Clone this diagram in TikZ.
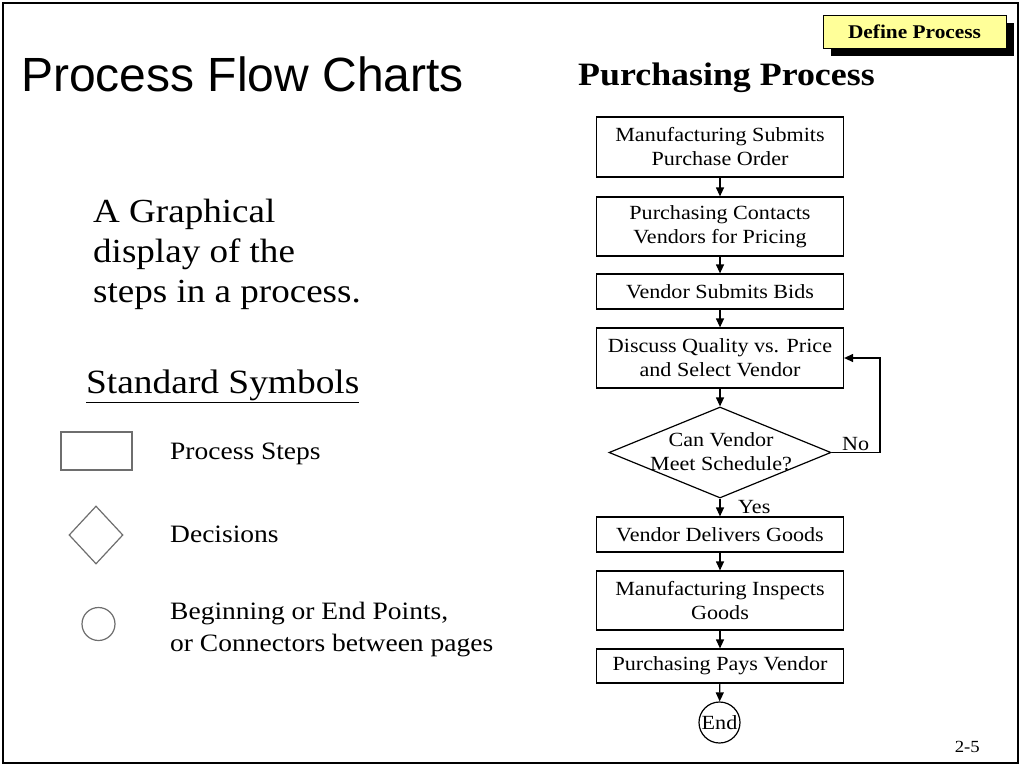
\documentclass[tikz,border=0pt]{standalone}
\usepackage{fontspec}
\setmainfont{Liberation Serif}[FakeStretch=1.1]
\newfontfamily\sansf{Liberation Sans}
\usetikzlibrary{shapes.geometric,arrows.meta}
\definecolor{defyellow}{HTML}{FFFF99}
\definecolor{symgray}{HTML}{6E6E6E}
\tikzset{
  flowbox/.style={draw, line width=1.2pt, minimum width=247pt, inner sep=0pt, align=center, font=\fontsize{20.1}{24}\selectfont},
  decision/.style={draw, diamond, line width=1.2pt, minimum width=222pt, minimum height=91pt, inner sep=0pt},
  flowtext/.style={align=center, inner sep=0pt, font=\fontsize{20.1}{24}\selectfont},
  endpoint/.style={draw, circle, line width=1.2pt, minimum size=41pt, inner sep=0pt, font=\fontsize{20.1}{24}\selectfont},
  arr/.style={line width=1.2pt, -{Triangle[length=9pt,width=8pt]}},
  symbol/.style={draw=symgray, line width=1.2pt, inner sep=0pt},
  legendtext/.style={anchor=base west, align=left, inner sep=0pt, font=\fontsize{25}{32}\selectfont},
  bigtext/.style={anchor=base west, align=left, inner sep=0pt, font=\fontsize{33.7}{40}\selectfont},
}
\begin{document}
\begin{tikzpicture}[x=1pt,y=-1pt]
\useasboundingbox (0,0) rectangle (1024,768);
\fill[white] (0,0) rectangle (1024,768);
\draw[line width=2.6pt] (3,3) rectangle (1018,763);

% Define Process tag
\fill[black] (831,23) rectangle (1014,56);
\node[draw, fill=defyellow, line width=0.8pt, minimum width=183pt, minimum height=33pt, inner sep=0pt,
      font=\bfseries\fontsize{19.4}{22}\selectfont] (tag) at (914.5,31.5) {Define Process};

% Titles
\node[anchor=base west, inner sep=0pt, font=\sansf\fontsize{48}{50}\selectfont] (title) at (21,91) {Process Flow Charts};
\node[anchor=base west, inner sep=0pt, font=\bfseries\fontsize{32.6}{36}\selectfont] (ptitle) at (578,85) {Purchasing Process};

% Left text
\node[bigtext] (intro) at (93,302) {A Graphical\\display of the\\steps in a process.};
\node[anchor=base west, inner sep=0pt, font=\fontsize{34}{40}\selectfont] (std) at (86,393) {\underline{Standard Symbols}};

% Legend
\node[symbol, minimum width=71pt, minimum height=38pt] (symrect) at (96.5,451) {};
\node[symbol, diamond, minimum width=54pt, minimum height=58pt] (symdia) at (96,535) {};
\node[symbol, circle, minimum size=33pt] (symcirc) at (98.5,624) {};
\node[legendtext] (l1) at (170,459) {Process Steps};
\node[legendtext] (l2) at (170,542) {Decisions};
\node[legendtext] (l3) at (170,651) {Beginning or End Points,\\or Connectors between pages};

% Flow chart
\node[flowbox, minimum height=60pt] (b1) at (720,147) {Manufacturing Submits\\Purchase Order};
\node[flowbox, minimum height=59pt] (b2) at (720,226.5) {Purchasing Contacts\\Vendors for Pricing};
\node[flowbox, minimum height=35pt] (b3) at (720,291.5) {Vendor Submits Bids};
\node[flowbox, minimum height=60pt] (b4) at (720,358) {Discuss Quality vs. Price\\and Select Vendor};
\node[decision] (d) at (720,452.5) {};
\node[flowtext] (dtext) at (721,452) {Can Vendor\\Meet Schedule?};
\node[flowbox, minimum height=35pt] (b5) at (720,534.5) {Vendor Delivers Goods};
\node[flowbox, minimum height=59pt] (b6) at (720,600.5) {Manufacturing Inspects\\Goods};
\node[flowbox, minimum height=34pt] (b7) at (720,666) {Purchasing Pays Vendor};
\node[endpoint] (end) at (719.5,722.5) {End};

\draw[arr] (b1) -- (b2);
\draw[arr] (b2) -- (b3);
\draw[arr] (b3) -- (b4);
\draw[arr] (b4) -- (d);
\draw[arr] (d) -- (b5);
\draw[arr] (b5) -- (b6);
\draw[arr] (b6) -- (b7);
\draw[arr] (b7) -- (end);
\coordinate (loop) at (880,452.5);
\draw[arr] (d.east) -- (loop) |- (b4.east);
\node[flowtext, anchor=base west] (no) at (842,450) {No};
\node[flowtext, anchor=base west] (yes) at (738,513) {Yes};

% Page number
\node[anchor=base east, inner sep=0pt, font=\fontsize{17}{20}\selectfont] (page) at (980,752) {2-5};
\end{tikzpicture}
\end{document}
